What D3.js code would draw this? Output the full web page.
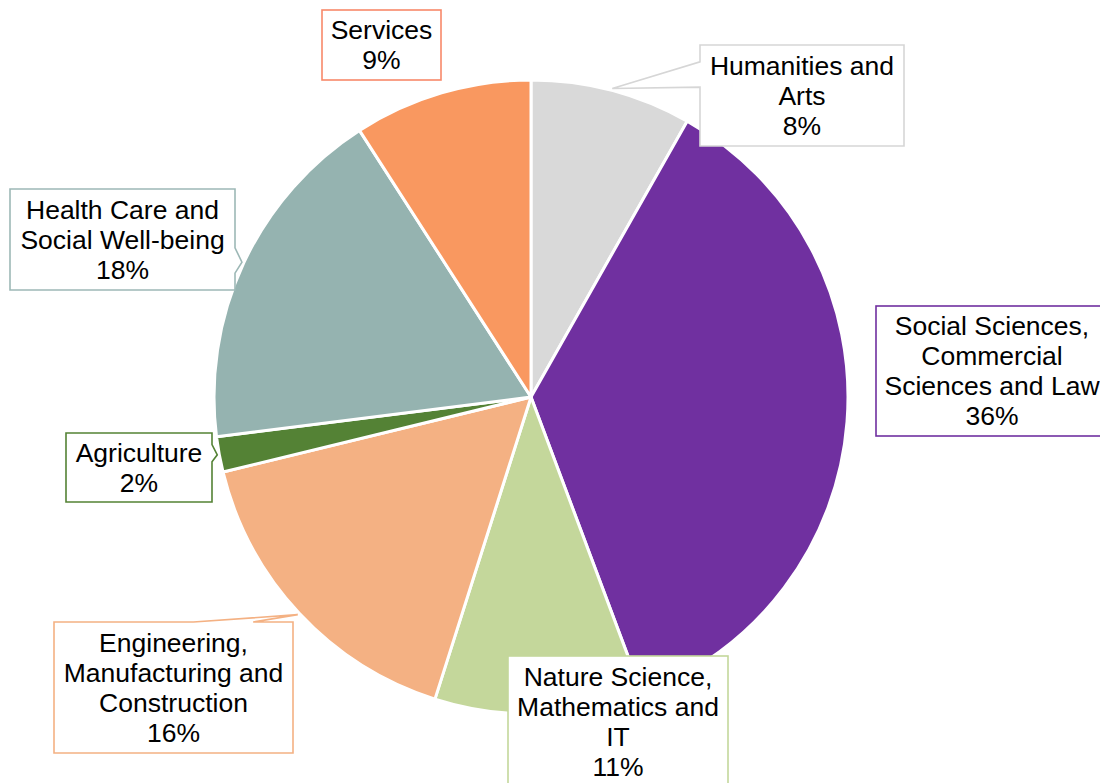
<!DOCTYPE html>
<html>
<head>
<meta charset="utf-8">
<script src="https://cdn.jsdelivr.net/npm/d3@7"></script>
<style>
  html, body { margin: 0; padding: 0; background: #fff; }
  svg { display: block; font-family: "Liberation Sans", Arial, sans-serif; }
</style>
</head>
<body>
<svg id="chart" width="1100" height="783"></svg>
<script>
// Share of students by field of study (percent)
const categories = [
  "Humanities and Arts",
  "Social Sciences, Commercial Sciences and Law",
  "Nature Science, Mathematics and IT",
  "Engineering, Manufacturing and Construction",
  "Agriculture",
  "Health Care and Social Well-being",
  "Services"
];
const values = [8.2, 36.1, 10.6, 16.3, 1.8, 17.9, 9.1];

// How each category name wraps inside its label box
const labelLines = [
  ["Humanities and", "Arts"],
  ["Social Sciences,", "Commercial", "Sciences and Law"],
  ["Nature Science,", "Mathematics and", "IT"],
  ["Engineering,", "Manufacturing and", "Construction"],
  ["Agriculture"],
  ["Health Care and", "Social Well-being"],
  ["Services"]
];

// Slice fills and label border colours
const sliceColors  = ["#D9D9D9", "#7030A0", "#C4D79B", "#F4B183", "#548235", "#95B3B0", "#F99860"];
const borderColors = ["#D6D6D6", "#7030A0", "#C4D79B", "#F4B183", "#548235", "#9DB8B6", "#F8896A"];

// Label box placement: [x, y, width, height], and whether a callout wedge points at the slice
const labelBoxes = [
  [700, 45, 204, 101],
  [876, 306, 232, 130],
  [508, 656, 220, 131],
  [54, 622, 239, 131],
  [66, 433, 146, 69],
  [10, 189, 225, 101],
  [322, 10, 119, 70]
];
const hasWedge = [true, false, false, true, true, true, false];

const cx = 531, cy = 397, radius = 317;
const fontSize = 26.5, lineHeight = 30;

const svg = d3.select("#chart");
const total = d3.sum(values);

const pie = d3.pie().sort(null).value(d => d);
const arcs = pie(values);
const arc = d3.arc().innerRadius(0).outerRadius(radius);

const g = svg.append("g").attr("transform", `translate(${cx},${cy})`);

g.selectAll("path.slice")
  .data(arcs)
  .join("path")
  .attr("class", "slice")
  .attr("d", arc)
  .attr("fill", (d, i) => sliceColors[i])
  .attr("stroke", "#fff")
  .attr("stroke-width", 3)
  .attr("stroke-linejoin", "round");

// Rectangle callout with a wedge on the side facing the tip
function calloutPath(b, tip) {
  const [x, y, w, h] = b;
  const hc = x + w / 2, vc = y + h / 2;
  const dxPos = tip[0] - hc, dyPos = tip[1] - vc;
  const horizontal = Math.abs(dxPos * h) > Math.abs(dyPos * w);
  let edge, a1, a2;
  if (horizontal) {
    edge = dxPos < 0 ? "left" : "right";
    [a1, a2] = dyPos < 0 ? [2 / 12, 5 / 12] : [7 / 12, 10 / 12];
  } else {
    edge = dyPos < 0 ? "top" : "bottom";
    [a1, a2] = dxPos < 0 ? [2 / 12, 5 / 12] : [7 / 12, 10 / 12];
  }
  const p = d3.path();
  p.moveTo(x, y);
  if (edge === "top") { p.lineTo(x + w * a1, y); p.lineTo(tip[0], tip[1]); p.lineTo(x + w * a2, y); }
  p.lineTo(x + w, y);
  if (edge === "right") { p.lineTo(x + w, y + h * a1); p.lineTo(tip[0], tip[1]); p.lineTo(x + w, y + h * a2); }
  p.lineTo(x + w, y + h);
  if (edge === "bottom") { p.lineTo(x + w * a2, y + h); p.lineTo(tip[0], tip[1]); p.lineTo(x + w * a1, y + h); }
  p.lineTo(x, y + h);
  if (edge === "left") { p.lineTo(x, y + h * a2); p.lineTo(tip[0], tip[1]); p.lineTo(x, y + h * a1); }
  p.closePath();
  return p.toString();
}

const tipArc = d3.arc().innerRadius(radius + 2).outerRadius(radius + 2);
const pct = d3.format(".0%");

const labels = svg.append("g").attr("class", "labels");

arcs.forEach((d, i) => {
  const b = labelBoxes[i];
  const c = tipArc.centroid(d);
  const tip = [cx + c[0], cy + c[1]];
  const lg = labels.append("g");

  if (hasWedge[i]) {
    lg.append("path")
      .attr("d", calloutPath(b, tip))
      .attr("fill", "#fff")
      .attr("stroke", borderColors[i])
      .attr("stroke-width", 1.6)
      .attr("stroke-linejoin", "miter");
  } else {
    lg.append("rect")
      .attr("x", b[0]).attr("y", b[1])
      .attr("width", b[2]).attr("height", b[3])
      .attr("fill", "#fff")
      .attr("stroke", borderColors[i])
      .attr("stroke-width", 1.6);
  }

  const lines = labelLines[i].concat([pct(d.data / total)]);
  const blockTop = b[1] + (b[3] - lines.length * lineHeight) / 2;
  const tx = b[0] + b[2] / 2;
  lg.append("text")
    .attr("text-anchor", "middle")
    .attr("font-size", fontSize)
    .attr("fill", "#000")
    .selectAll("tspan")
    .data(lines)
    .join("tspan")
    .attr("x", tx)
    .attr("y", (t, k) => blockTop + lineHeight * k + lineHeight / 2 + fontSize * 0.35)
    .text(t => t);
});
</script>
</body>
</html>
